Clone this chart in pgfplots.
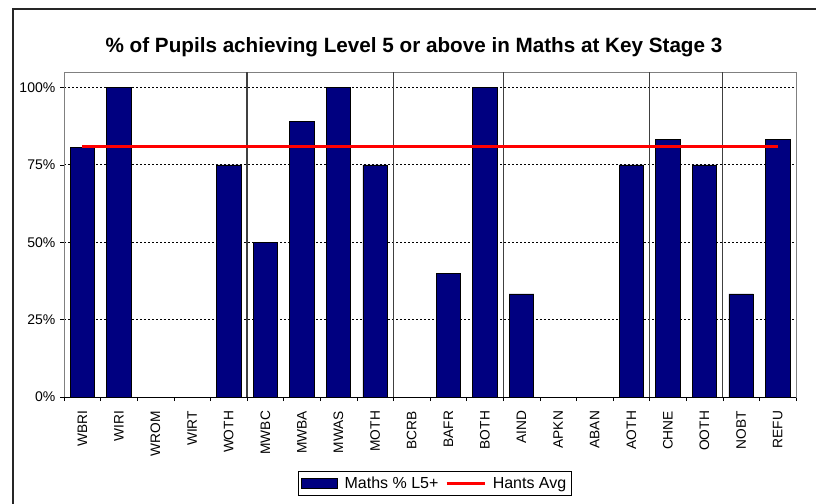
\documentclass[border=0pt]{standalone}
\usepackage{fontspec}
\setmainfont{Liberation Sans}
\usepackage{pgfplots}
\pgfplotsset{compat=1.18}
\definecolor{barnavy}{RGB}{0,0,128}
\definecolor{avgred}{RGB}{255,0,0}

\begin{document}
\begin{tikzpicture}
% page is 816x503 px at 0.75pt per px
\clip (0pt,0pt) rectangle (612pt,377.25pt);
\draw[line width=1.1pt, black!85] (9.75pt,-20pt) -- (9.75pt,370.5pt) -- (640pt,370.5pt);
\node[font=\bfseries\fontsize{15.5}{18}\selectfont] at (310.5pt,341.5pt) {\% of Pupils achieving Level 5 or above in Maths at Key Stage 3};

\begin{axis}[
    at={(48pt,79.5pt)}, anchor=south west,
    scale only axis,
    width=549pt, height=243.75pt,
    xmin=-0.5, xmax=19.5,
    ymin=0, ymax=105,
    axis line style={draw=black!50},
    ytick={0,25,50,75,100},
    yticklabels={0\%,25\%,50\%,75\%,100\%},
    ymajorgrids,
    major grid style={black, dash pattern=on 1.5pt off 1.5pt, line width=0.6pt},
    xtick={0,...,19},
    xticklabels={WBRI,WIRI,WROM,WIRT,WOTH,MWBC,MWBA,MWAS,MOTH,BCRB,BAFR,BOTH,AIND,APKN,ABAN,AOTH,CHNE,OOTH,NOBT,REFU},
    minor xtick={-0.5,0.5,...,19.5},
    major x tick style={draw=none},
    minor x tick style={black},
    y tick style={black},
    tick align=outside,
    major tick length=3pt, minor tick length=3pt,
    xtick pos=bottom, ytick pos=left,
    xticklabel style={rotate=90, anchor=east, font=\fontsize{10.3}{12}\selectfont, xshift=-4pt},
    yticklabel style={font=\fontsize{10.5}{12}\selectfont},
    extra x ticks={4.5,8.5,11.5,15.5,17.5},
    extra x tick labels={},
    extra x tick style={xmajorgrids=true, major tick length=0pt,
        major grid style={solid, black!75, line width=0.9pt}},
    legend style={at={(0.507,-0.2277)}, anchor=north, legend columns=2,
        draw=black, line width=0.6pt, font=\fontsize{12}{14}\selectfont,
        inner sep=2pt,
        /tikz/every odd column/.append style={column sep=3pt},
        /tikz/every even column/.append style={column sep=3pt}},
    legend cell align=left,
    clip=false,
]
\addplot[ybar, bar width=18.4pt, fill=barnavy, draw=black, line width=0.5pt,
    legend image code/.code={\draw[fill=barnavy,draw=black] (0pt,-3.75pt) rectangle (27pt,3.75pt);}]
coordinates {
(0,80.6) (1,100) (2,0) (3,0) (4,75)
(5,50) (6,89) (7,100) (8,75)
(9,0) (10,40) (11,100)
(12,33.3) (13,0) (14,0) (15,75)
(16,83.3) (17,75)
(18,33.3) (19,83.3)
};
\addlegendentry{Maths \% L5+}
\addplot[avgred, line width=2.2pt, mark=none,
    legend image code/.code={\draw[avgred, line width=2.2pt] (0pt,0pt) -- (28.5pt,0pt);}]
coordinates {(0,80.9) (19,80.9)};
\addlegendentry{Hants Avg}
\draw[black, line width=0.7pt] (rel axis cs:0,0) -- (rel axis cs:1,0);
\end{axis}
\end{tikzpicture}
\end{document}
